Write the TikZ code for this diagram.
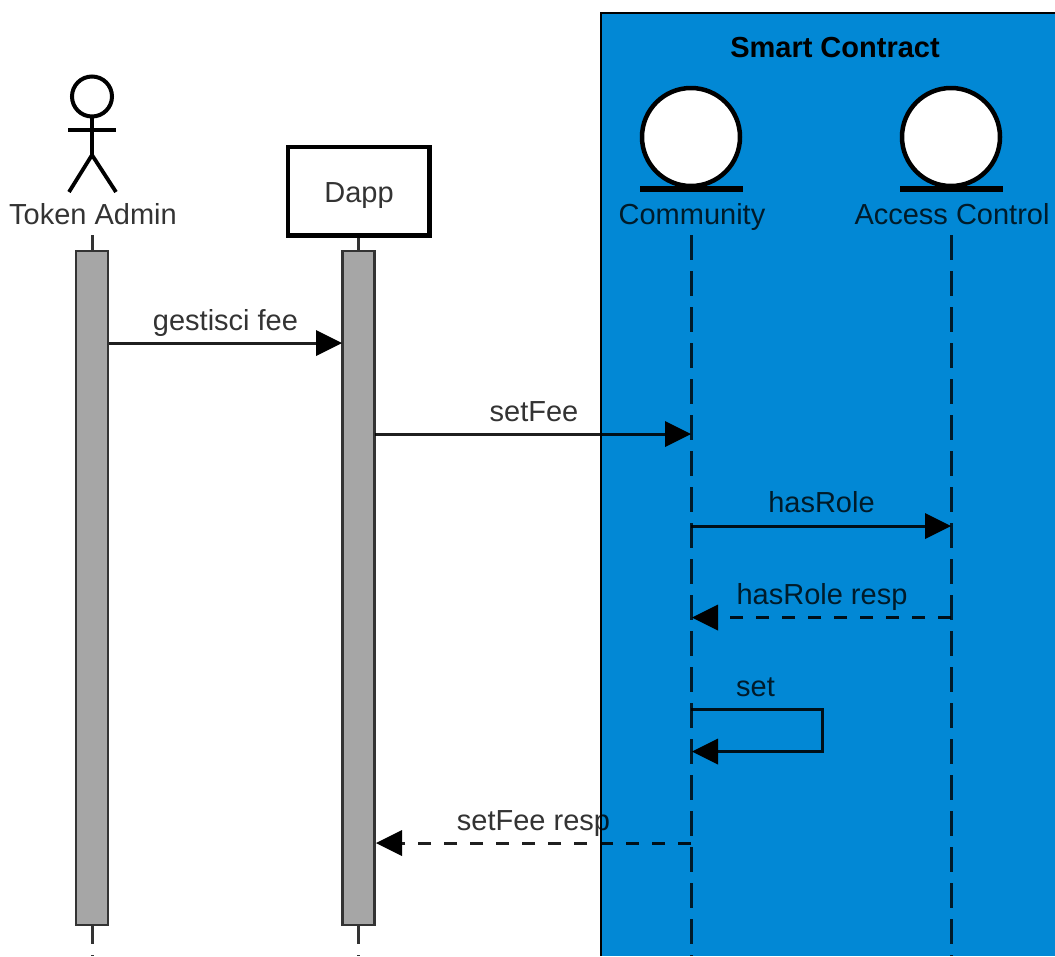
\documentclass[tikz,border=0pt]{standalone}
\usepackage{fontspec}
\setmainfont{Liberation Sans}
\definecolor{scblue}{HTML}{0288D5}
\definecolor{actgrey}{HTML}{A6A6A6}
\tikzset{
  x=1pt,y=-1pt,
  lbl/.style={inner sep=0pt,anchor=base,font=\fontsize{29}{32}\selectfont,text=black,text opacity=.8},
  life/.style={line width=3pt,draw=black,draw opacity=.8,dash pattern=on 25pt off 11pt},
  bar/.style={draw=black!80,fill=actgrey,line width=2.8pt},
  msg/.style={line width=3pt,draw=black,draw opacity=.88},
  ret/.style={msg,dash pattern=on 13pt off 13pt},
  tip/.style={fill=black,draw=none},
  ent/.style={circle,draw=black,fill=white,line width=4.5pt,minimum size=98pt,inner sep=0pt},
}
\begin{document}
\begin{tikzpicture}
\useasboundingbox (0,0) rectangle (1055,956);
% Smart Contract frame
\fill[scblue] (601,13) rectangle (1055,956);
\draw[black,line width=2.8pt] (601,956) -- (601,13) -- (1055,13);
\node[lbl,text opacity=1,font=\fontsize{29}{32}\bfseries\selectfont] (sc) at (835,57) {Smart Contract};
% Lifeline anchors
\coordinate (aT) at (92,235); \coordinate (aB) at (92,956);
\coordinate (dT) at (358,235); \coordinate (dB) at (358,956);
\coordinate (cT) at (691,235); \coordinate (cB) at (691,956);
\coordinate (sT) at (951,235); \coordinate (sB) at (951,956);
\draw[life] (aT) -- (aB);
\draw[life] (dT) -- (dB);
\draw[life] (cT) -- (cB);
\draw[life] (sT) -- (sB);
% Activation bars
\node[bar,minimum width=32pt,minimum height=674pt,inner sep=0pt] (abar) at (92,588) {};
\node[bar,minimum width=32pt,minimum height=674pt,inner sep=0pt] (dbar) at (358.5,588) {};
% Actor
\draw[black,line width=4pt,fill=white] (92,96.5) circle (20pt);
\coordinate (neck) at (92,117);
\coordinate (hip) at (92,155);
\draw[black,line width=3.8pt] (neck) -- (hip);
\draw[black,line width=3.8pt] (68,130) -- (116,130);
\draw[black,line width=3.8pt] (69,192) -- (hip) -- (116,192);
\node[lbl] (admin) at (93,224) {Token Admin};
% Dapp
\node[draw=black,fill=white,line width=4.5pt,minimum width=141.5pt,minimum height=88.5pt,inner sep=0pt] (dapp) at (358.5,191) {};
\node[lbl] (dappt) at (359,202) {Dapp};
% Entities
\node[ent] (comm) at (691,137) {};
\node[ent] (acc) at (951,137) {};
\draw[black,line width=6pt] (640,189) -- (743,189);
\draw[black,line width=6pt] (900,189) -- (1003,189);
\node[lbl] (commt) at (692,224) {Community};
\node[lbl] (acct) at (952,224) {Access Control};
% Messages
\draw[msg] (109,343) -- (318,343);
\fill[tip] (342,343) -- (316,330) -- (316,356) -- cycle;
\node[lbl] at (225.5,330) {gestisci fee};
\draw[msg] (375,434) -- (666,434);
\fill[tip] (691,434) -- (665,421) -- (665,447) -- cycle;
\node[lbl] at (534,421) {setFee};
\draw[msg] (691,526) -- (926,526);
\fill[tip] (951,526) -- (925,513) -- (925,539) -- cycle;
\node[lbl] at (821.5,512) {hasRole};
\draw[ret] (951,617.5) -- (700,617.5);
\fill[tip] (692,617.5) -- (718,604.5) -- (718,630.5) -- cycle;
\node[lbl] at (822,604) {hasRole resp};
\draw[msg] (691,709) -- (822.5,709) -- (822.5,751.5) -- (716,751.5);
\fill[tip] (692,751.5) -- (718,738.5) -- (718,764.5) -- cycle;
\node[lbl] at (755.5,696) {set};
\draw[ret] (691,843) -- (385,843);
\fill[tip] (376,843) -- (402,830) -- (402,856) -- cycle;
\node[lbl] at (533.5,830) {setFee resp};
\end{tikzpicture}
\end{document}
